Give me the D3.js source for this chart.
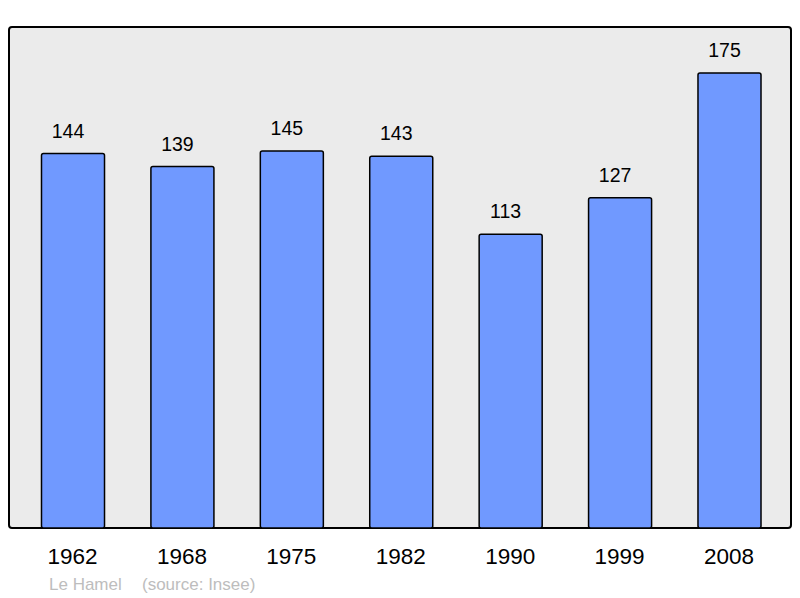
<!DOCTYPE html>
<meta charset="utf-8">
<style>
  body { margin: 0; background: #fff; }
  text { font-family: "Liberation Sans", Arial, sans-serif; }
</style>
<body>
<script src="https://d3js.org/d3.v7.min.js"></script>
<script>
var years = ["1962", "1968", "1975", "1982", "1990", "1999", "2008"];
var population = [144, 139, 145, 143, 113, 127, 175];
var place = "Le Hamel";
var source = "(source: Insee)";

var width = 800, height = 598;

var svg = d3.select("body").append("svg")
    .attr("width", width)
    .attr("height", height);

// frame
var frame = {x0: 9, x1: 791, y0: 27, y1: 528};

var x = d3.scaleBand()
    .domain(years)
    .range([18.3, 784.2])
    .paddingInner(0.424)
    .paddingOuter(0.212);

var y = d3.scaleLinear()
    .domain([0, 175])
    .range([frame.y1, 73]);

svg.append("rect")
    .attr("x", frame.x0)
    .attr("y", frame.y0)
    .attr("width", frame.x1 - frame.x0)
    .attr("height", frame.y1 - frame.y0)
    .attr("rx", 3)
    .attr("fill", "#ebebeb")
    .attr("stroke", "#000")
    .attr("stroke-width", 2);

var data = years.map((d, i) => ({year: d, value: population[i]}));

svg.append("g")
  .selectAll("rect")
  .data(data)
  .join("rect")
    .attr("x", d => x(d.year))
    .attr("y", d => y(d.value))
    .attr("width", x.bandwidth())
    .attr("height", d => y(0) - y(d.value))
    .attr("rx", 2)
    .attr("fill", "#7099ff")
    .attr("stroke", "#000")
    .attr("stroke-width", 1.5);

// value labels sit a little left of the bar centre
svg.append("g")
    .attr("text-anchor", "middle")
    .style("font-size", "19.5px")
  .selectAll("text")
  .data(data)
  .join("text")
    .attr("x", d => x(d.year) + x.bandwidth() / 2 - 5)
    .attr("y", d => y(d.value) - 16)
    .attr("fill", "#000")
    .text(d => d.value);

svg.append("g")
    .attr("text-anchor", "middle")
    .style("font-size", "22.5px")
  .selectAll("text")
  .data(years)
  .join("text")
    .attr("x", d => x(d) + x.bandwidth() / 2 - 0.5)
    .attr("y", 564)
    .attr("fill", "#000")
    .text(d => d);

svg.append("text")
    .attr("x", 49)
    .attr("y", 590)
    .attr("fill", "#bdbdbd")
    .style("font-size", "17px")
    .text(place);

svg.append("text")
    .attr("x", 142)
    .attr("y", 590)
    .attr("fill", "#bdbdbd")
    .style("font-size", "17px")
    .text(source);
</script>
</body>
